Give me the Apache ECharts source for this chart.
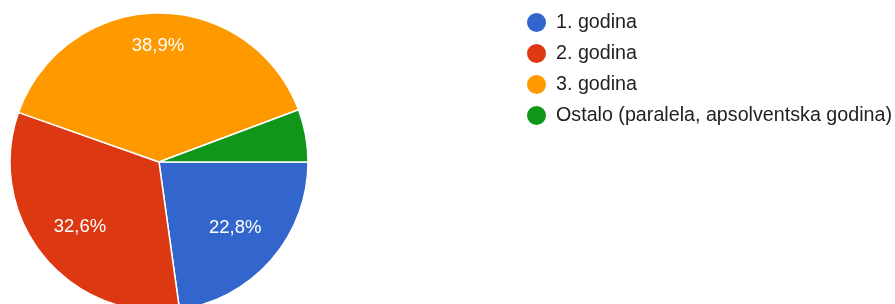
<!DOCTYPE html>
<html lang="hr">
  <head>
    <meta charset="UTF-8" />
    <title>Godina studija</title>
    <script src="https://cdn.jsdelivr.net/npm/echarts@6/dist/echarts.min.js"></script>
    <style>
      body { margin: 0; background: #fff; }
    </style>
  </head>
  <body>
    <div id="main" style="width: 895px; height: 304px"></div>

    <script>
      const categories = ["1. godina", "2. godina", "3. godina", "Ostalo (paralela, apsolventska godina)"];
      const values = [22.8, 32.6, 38.9, 5.7];
      const colors = ["#3366cc", "#dc3912", "#ff9900", "#109618"];

      const pieCenter = [159, 162];
      const pieRadius = 149;
      // udaljenost natpisa od središta (kao u Google Forms)
      const labelDist = [101, 102, 116, 0];

      const myChart = echarts.init(document.getElementById("main"));

      const pieData = categories.map((name, i) => ({
        name: name,
        value: values[i],
        itemStyle: { color: colors[i] },
        label: { show: values[i] > 10 }, // sitne isječke bez natpisa
      }));

      const options = {
        textStyle: { fontFamily: "'Liberation Sans', Arial, sans-serif" },
        legend: {
          orient: "vertical",
          left: 525,
          top: 11,
          padding: 0,
          icon: "circle",
          itemWidth: 21,
          itemHeight: 21,
          itemGap: 8,
          textStyle: { fontSize: 19.7, color: "#222", padding: [0, 0, 0, 4] },
          data: categories,
        },
        series: [
          {
            type: "pie",
            center: pieCenter,
            radius: [0, pieRadius],
            startAngle: 0,
            clockwise: true,
            silent: true,
            itemStyle: { borderColor: "#fff", borderWidth: 1.5 },
            label: {
              position: "inside",
              color: "#fff",
              fontSize: 18.5,
              formatter: (p) => p.value.toFixed(1).replace(".", ",") + "%",
            },
            labelLayout: (p) => {
              const r = p.labelRect;
              const lx = r.x + r.width / 2 - pieCenter[0];
              const ly = r.y + r.height / 2 - pieCenter[1];
              const d = Math.sqrt(lx * lx + ly * ly) || 1;
              const k = labelDist[p.dataIndex] / d;
              return { dx: lx * (k - 1), dy: ly * (k - 1) };
            },
            data: pieData,
          },
        ],
      };

      myChart.setOption(options);
    </script>
  </body>
</html>
